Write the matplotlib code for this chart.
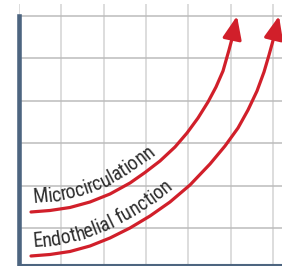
import numpy as np
import matplotlib
matplotlib.use("Agg")
import matplotlib.pyplot as plt
from matplotlib import font_manager as fm
from matplotlib.patches import FancyArrowPatch
from matplotlib.path import Path

# ---- data, read in pixels from the reference, converted to grid units ----
curve_labels = ["Microcirculationn", "Endothelial function"]
micro_px = [31, 50, 70, 90, 110, 130, 145, 160, 175, 187, 198, 208, 216, 223, 229, 233, 237]
micro_py = [212, 210.5, 207.5, 202, 194, 183, 172.5, 161, 147, 133, 118, 102, 87, 71, 50, 35, 16]
endo_px = [31, 50, 70, 90, 110, 130, 150, 170, 190, 210, 225, 238, 248, 257, 264, 269, 274, 279]
endo_py = [256, 254.5, 251.5, 246, 238, 228, 216, 202, 185, 164, 146, 128, 110, 91, 72, 55, 37, 16]
x_grid = [0, 1, 2, 3, 4, 5, 6]
y_grid = [1, 2, 3, 4, 5, 6]


def to_grid(px, py):
    gx = (np.asarray(px, float) - 19) / 42.33
    gy = 6 - (np.asarray(py, float) - 16) / 42.4
    return gx, gy


RED = "#d11f2a"
BLUE = "#4d6580"
TEXT = "#2e2e2e"

fig = plt.figure(figsize=(2.82, 2.66), dpi=100)
ax = fig.add_axes([19 / 282, 1 / 266, 263 / 282, 261 / 266])
ax.set_xlim(0, 6.213)
ax.set_ylim(0.127, 6.283)
ax.set_xticks(x_grid)
ax.set_yticks(y_grid)
ax.tick_params(length=0, labelbottom=False, labelleft=False)
ax.xaxis.grid(True, color="#d3d3d3", linewidth=1.1)
ax.yaxis.grid(True, color="#bcbcbc", linewidth=1.1)
ax.set_axisbelow(True)
for s in ["top", "right"]:
    ax.spines[s].set_visible(False)
ax.spines["left"].set_color(BLUE)
ax.spines["left"].set_linewidth(3.3)
ax.spines["left"].set_bounds(0.127, 6)
ax.spines["bottom"].set_color(BLUE)
ax.spines["bottom"].set_linewidth(1.5)

# font choice: prefer a condensed sans
names = {f.name for f in fm.fontManager.ttflist}
prop = None
for cand in ["Roboto Condensed", "Liberation Sans Narrow", "Open Sans Condensed"]:
    if cand in names:
        prop = fm.FontProperties(family=cand, size=14.6)
        break
if prop is None:
    prop = fm.FontProperties(family="DejaVu Sans", stretch="condensed", size=13)

curves = [to_grid(micro_px, micro_py), to_grid(endo_px, endo_py)]
for (cx, cy) in curves:
    verts = np.column_stack([cx, cy])
    arr = FancyArrowPatch(path=Path(verts), arrowstyle="-|>,head_length=14,head_width=5.8",
                          mutation_scale=1, color=RED, linewidth=2.3,
                          shrinkA=0, shrinkB=0, capstyle="round", joinstyle="round")
    ax.add_patch(arr)

fig.canvas.draw()
renderer = fig.canvas.get_renderer()


def twidth(s):
    w, h, d = renderer.get_text_width_height_descent(s, prop, ismath=False)
    return w


def text_along(cx, cy, text, start_px, offset_px):
    pts = ax.transData.transform(np.column_stack([cx, cy]))
    seg = np.diff(pts, axis=0)
    seglen = np.hypot(seg[:, 0], seg[:, 1])
    cum = np.concatenate([[0], np.cumsum(seglen)])
    ang_seg = np.arctan2(seg[:, 1], seg[:, 0])
    ang_v = np.concatenate([[ang_seg[0]], (ang_seg[:-1] + ang_seg[1:]) / 2, [ang_seg[-1]]])
    wH = twidth("H")
    pos = [twidth(text[:i] + "H") - wH if i > 0 else 0.0 for i in range(len(text) + 1)]
    inv = ax.transData.inverted()
    for i, ch in enumerate(text):
        if ch == " ":
            continue
        s = start_px + (pos[i] + pos[i + 1]) / 2
        px = np.interp(s, cum, pts[:, 0])
        py = np.interp(s, cum, pts[:, 1])
        a = np.interp(s, cum, ang_v)
        nx, ny = -np.sin(a), np.cos(a)
        dx, dy = inv.transform((px + offset_px * nx, py + offset_px * ny))
        ax.text(dx, dy, ch, fontproperties=prop, color=TEXT, rotation=np.degrees(a),
                rotation_mode="anchor", ha="center", va="baseline")


mx, my = curves[0]
ex, ey = curves[1]
text_along(mx, my, curve_labels[0], 3, 8.5)
text_along(ex, ey, curve_labels[1], 3, 8.5)

fig.savefig("out.png", dpi=100)
